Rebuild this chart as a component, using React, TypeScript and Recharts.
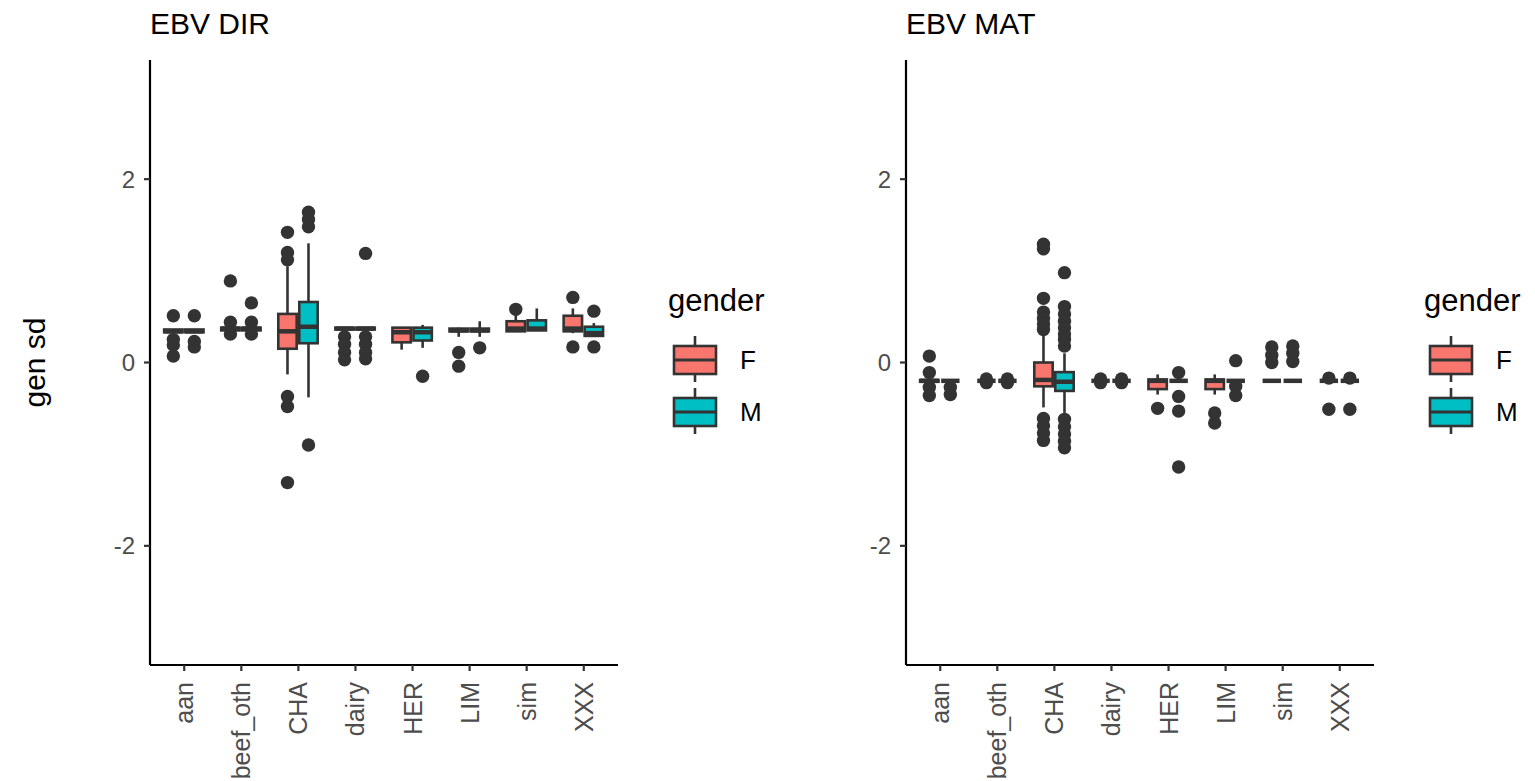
import React from 'react';
import { BarChart, Bar, XAxis, YAxis, Legend } from 'recharts';

// categories and groups
const breeds = ['aan', 'beef_oth', 'CHA', 'dairy', 'HER', 'LIM', 'sim', 'XXX'];
const genders = ['F', 'M'];
const genderColors = ['#F8766D', '#00BFC4'];
const yTicks = [-2, 0, 2];

// box stats per breed: [lower whisker, q1, median, q3, upper whisker]
const dirF = [
  [0.33, 0.33, 0.34, 0.36, 0.36],
  [0.35, 0.35, 0.37, 0.38, 0.38],
  [-0.13, 0.15, 0.34, 0.53, 1.05],
  [0.36, 0.36, 0.37, 0.38, 0.38],
  [0.14, 0.22, 0.33, 0.38, 0.38],
  [0.28, 0.34, 0.35, 0.37, 0.38],
  [0.34, 0.34, 0.37, 0.45, 0.52],
  [0.32, 0.34, 0.37, 0.51, 0.59],
];
const dirFOut = [
  [0.51, 0.25, 0.19, 0.07],
  [0.89, 0.44, 0.31],
  [1.42, 1.2, 1.12, -0.37, -0.48, -1.31],
  [0.28, 0.2, 0.11, 0.03],
  [],
  [0.11, -0.04],
  [0.58],
  [0.71, 0.17],
];
const dirM = [
  [0.33, 0.33, 0.34, 0.36, 0.36],
  [0.35, 0.35, 0.37, 0.38, 0.38],
  [-0.38, 0.21, 0.39, 0.66, 1.3],
  [0.36, 0.36, 0.37, 0.38, 0.38],
  [0.16, 0.24, 0.33, 0.38, 0.41],
  [0.28, 0.34, 0.35, 0.37, 0.45],
  [0.35, 0.35, 0.37, 0.46, 0.59],
  [0.29, 0.29, 0.32, 0.39, 0.43],
];
const dirMOut = [
  [0.51, 0.23, 0.17],
  [0.65, 0.44, 0.31],
  [1.64, 1.56, 1.48, -0.9],
  [1.19, 0.28, 0.2, 0.11, 0.04],
  [-0.15],
  [0.16],
  [],
  [0.56, 0.17],
];

const matF = [
  [-0.21, -0.21, -0.2, -0.19, -0.19],
  [-0.2, -0.2, -0.2, -0.2, -0.2],
  [-0.49, -0.26, -0.19, 0.0, 0.3],
  [-0.2, -0.2, -0.2, -0.2, -0.2],
  [-0.35, -0.29, -0.2, -0.185, -0.13],
  [-0.35, -0.29, -0.2, -0.185, -0.13],
  [-0.2, -0.2, -0.2, -0.2, -0.2],
  [-0.2, -0.2, -0.2, -0.2, -0.2],
];
const matFOut = [
  [0.07, -0.11, -0.27, -0.36],
  [-0.18, -0.22],
  [1.29, 1.24, 0.7, 0.55, 0.48, 0.42, 0.36, -0.61, -0.69, -0.77, -0.85],
  [-0.18, -0.22],
  [-0.5],
  [-0.55, -0.66],
  [0.17, 0.08, 0.0],
  [-0.17, -0.51],
];
const matM = [
  [-0.2, -0.2, -0.2, -0.2, -0.2],
  [-0.2, -0.2, -0.2, -0.2, -0.2],
  [-0.55, -0.31, -0.21, -0.105, 0.1],
  [-0.2, -0.2, -0.2, -0.2, -0.2],
  [-0.2, -0.2, -0.2, -0.2, -0.2],
  [-0.2, -0.2, -0.2, -0.2, -0.2],
  [-0.2, -0.2, -0.2, -0.2, -0.2],
  [-0.2, -0.2, -0.2, -0.2, -0.2],
];
const matMOut = [
  [-0.27, -0.35],
  [-0.18, -0.22],
  [0.98, 0.61, 0.53, 0.45, 0.38, 0.31, 0.25, 0.18, -0.62, -0.7, -0.78, -0.86, -0.93],
  [-0.18, -0.22],
  [-0.11, -0.37, -0.53, -1.14],
  [0.02, -0.26, -0.36],
  [0.18, 0.1, 0.01],
  [-0.17, -0.51],
];

const FONT = '"Liberation Sans", Arial, Helvetica, sans-serif';
const INK = '#333333';
const TEXT_GREY = '#4D4D4D';

interface Group { s: number[]; out: number[] }
interface Row { breed: string; F: Group; M: Group }

const buildRows = (f: number[][], fOut: number[][], m: number[][], mOut: number[][]): Row[] =>
  breeds.map((breed, i) => ({
    breed,
    F: { s: f[i], out: fOut[i] },
    M: { s: m[i], out: mOut[i] },
  }));

const extent = (g: Group): [number, number] => [
  Math.min(g.s[0], ...g.out),
  Math.max(g.s[4], ...g.out),
];

// the bar spans the full data extent, so the other values map linearly inside it
const makeBox = (key: 'F' | 'M', fill: string) => (props: any) => {
  const { x, y, width, height, payload } = props;
  const g: Group = payload[key];
  const [lo, hi] = extent(g);
  const top = height < 0 ? y + height : y;
  const h = Math.abs(height);
  const py = (v: number) => (hi > lo ? top + ((hi - v) / (hi - lo)) * h : top);
  const [lower, q1, med, q3, upper] = g.s;
  const cx = x + width / 2;
  return (
    <g>
      {g.out.map((v, j) => (
        <circle key={j} cx={cx} cy={py(v)} r={6.7} fill={INK} />
      ))}
      <line x1={cx} x2={cx} y1={py(upper)} y2={py(q3)} stroke={INK} strokeWidth={2.6} />
      <line x1={cx} x2={cx} y1={py(q1)} y2={py(lower)} stroke={INK} strokeWidth={2.6} />
      <rect
        x={x + 1.3}
        y={py(q3)}
        width={width - 2.6}
        height={Math.max(py(q1) - py(q3), 0)}
        fill={fill}
        stroke={INK}
        strokeWidth={2.6}
      />
      <line x1={x + 1.3} x2={x + width - 1.3} y1={py(med)} y2={py(med)} stroke={INK} strokeWidth={4.5} />
    </g>
  );
};

const BreedTick = (props: any) => {
  const { x, y, payload } = props;
  return (
    <g transform={`translate(${x},${y})`}>
      <text transform="rotate(-90)" textAnchor="end" dy="0.36em" fill={TEXT_GREY} fontSize={25} fontFamily={FONT}>
        {payload.value}
      </text>
    </g>
  );
};

const GenderLegend = () => (
  <div style={{ fontFamily: FONT, color: '#000' }}>
    <div style={{ fontSize: 31, lineHeight: '30px' }}>gender</div>
    <div style={{ marginTop: 18 }}>
      {genders.map((g, i) => (
        <div key={g} style={{ display: 'flex', alignItems: 'center', height: 52 }}>
          <svg width={46} height={52} style={{ marginLeft: 4 }}>
            <line x1={23} x2={23} y1={2} y2={48} stroke={INK} strokeWidth={2.6} />
            <rect x={2} y={12} width={42} height={28} fill={genderColors[i]} stroke={INK} strokeWidth={2.6} />
            <line x1={2} x2={44} y1={26} y2={26} stroke={INK} strokeWidth={3} />
          </svg>
          <span style={{ marginLeft: 22, fontSize: 26 }}>{g}</span>
        </div>
      ))}
    </div>
  </div>
);

interface FacetProps {
  title: string;
  rows: Row[];
  left: number;
  showYTitle: boolean;
}

const Facet: React.FC<FacetProps> = ({ title, rows, left, showYTitle }) => (
  <div style={{ position: 'absolute', left, top: 0, width: 779, height: 781 }}>
    <div style={{ position: 'absolute', left: 150, top: 9, fontSize: 30, lineHeight: '30px', color: '#000', zIndex: 2 }}>
      {title}
    </div>
    <BarChart
      width={779}
      height={781}
      data={rows}
      margin={{ top: 60, right: 161, bottom: 16, left: 0 }}
      barCategoryGap="12.5%"
      barGap={0}
    >
      <XAxis
        dataKey="breed"
        height={100}
        padding={{ left: 5.7, right: 5.7 }}
        interval={0}
        tick={<BreedTick />}
        tickSize={6}
        tickMargin={11}
        axisLine={{ stroke: '#000', strokeWidth: 2.2 }}
        tickLine={{ stroke: INK, strokeWidth: 2.2 }}
      />
      <YAxis
        width={150}
        domain={[-3.3, 3.3]}
        ticks={yTicks}
        interval={0}
        tick={{ fill: TEXT_GREY, fontSize: 24, fontFamily: FONT }}
        tickSize={6}
        tickMargin={9}
        axisLine={{ stroke: '#000', strokeWidth: 2.2 }}
        tickLine={{ stroke: INK, strokeWidth: 2.2 }}
        label={
          showYTitle
            ? {
                value: 'gen sd',
                angle: -90,
                position: 'insideLeft',
                offset: 34,
                style: { textAnchor: 'middle', fill: '#000', fontSize: 30, fontFamily: FONT },
              }
            : undefined
        }
      />
      <Legend
        layout="vertical"
        align="center"
        verticalAlign="middle"
        content={<GenderLegend />}
        wrapperStyle={{ left: 668, top: 286, width: 110, height: 160 }}
      />
      {genders.map((g, i) => (
        <Bar
          key={g}
          name={g}
          dataKey={(r: Row) => extent(r[g as 'F' | 'M'])}
          fill={genderColors[i]}
          shape={makeBox(g as 'F' | 'M', genderColors[i])}
          isAnimationActive={false}
        />
      ))}
    </BarChart>
  </div>
);

const dirRows = buildRows(dirF, dirFOut, dirM, dirMOut);
const matRows = buildRows(matF, matFOut, matM, matMOut);

export default function App() {
  return (
    <div
      style={{
        position: 'absolute',
        left: 0,
        top: 0,
        width: 1535,
        height: 781,
        background: '#fff',
        overflow: 'hidden',
        fontFamily: FONT,
      }}
    >
      <Facet title="EBV DIR" rows={dirRows} left={0} showYTitle />
      <Facet title="EBV MAT" rows={matRows} left={756} showYTitle={false} />
    </div>
  );
}
